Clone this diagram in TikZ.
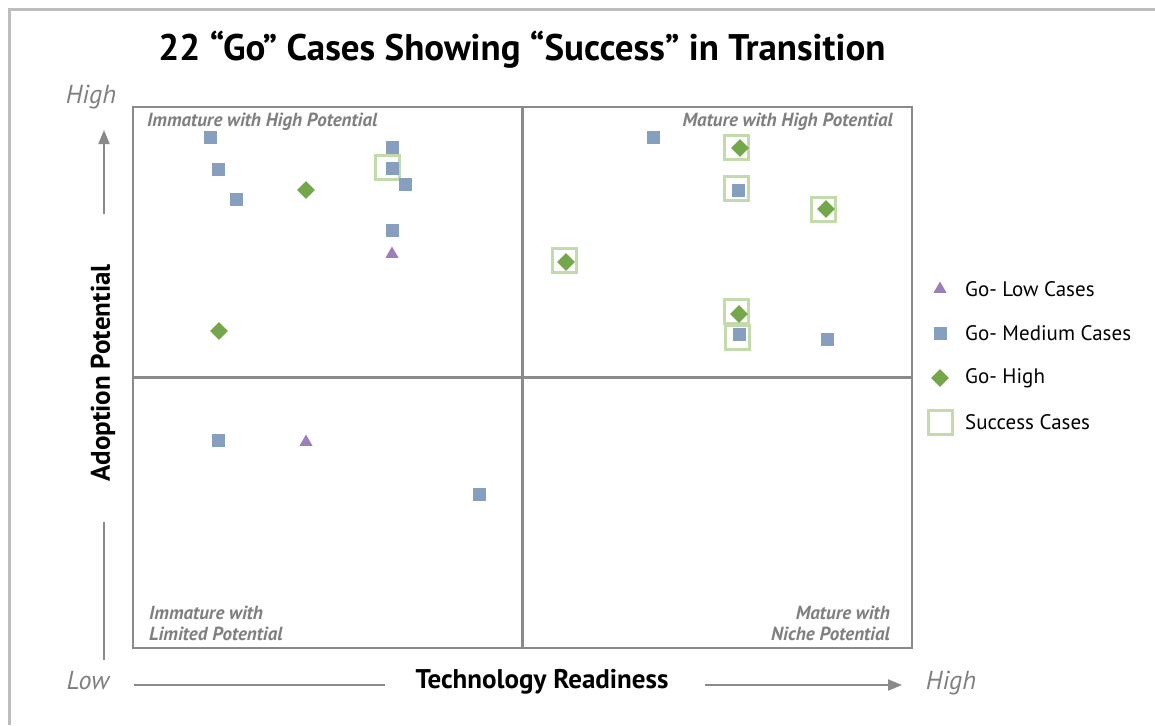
\documentclass[tikz,border=0pt]{standalone}
\usepackage{fontspec}
\setmainfont{PT Sans}
\usetikzlibrary{shapes.geometric,arrows.meta}
\definecolor{framegray}{HTML}{BDBDBD}
\definecolor{quadgray}{HTML}{8A8A8C}
\definecolor{labgray}{HTML}{7F7F82}
\definecolor{medblue}{HTML}{869FBF}
\definecolor{highgreen}{HTML}{74A64A}
\definecolor{lowpurple}{HTML}{9B7FBB}
\definecolor{succgreen}{HTML}{C3DAAA}
\tikzset{
  medsq/.style={rectangle,fill=medblue,inner sep=0pt,minimum size=13pt},
  highdia/.style={diamond,fill=highgreen,inner sep=0pt,minimum width=18pt,minimum height=18pt},
  lowtri/.style={regular polygon,regular polygon sides=3,fill=lowpurple,inner sep=0pt,minimum size=15pt},
  succbox/.style={rectangle,draw=succgreen,line width=3pt,inner sep=0pt,minimum size=24pt},
  quadlab/.style={font=\fontsize{19}{21}\selectfont\bfseries\itshape,text=labgray,inner sep=0pt},
  hilo/.style={font=\fontsize{26}{28}\selectfont\itshape,text=labgray,inner sep=0pt},
  axlab/.style={font=\fontsize{27}{29}\selectfont\bfseries,text=black,inner sep=0pt},
  legtext/.style={font=\fontsize{21}{23}\selectfont,anchor=west,inner sep=0pt},
  axline/.style={draw=quadgray,line width=2pt},
  axarrow/.style={axline,-{Triangle[length=14pt,width=11pt]}}
}
\begin{document}
\begin{tikzpicture}[x=1pt,y=-1pt]
\useasboundingbox (0,0) rectangle (1155,725);
% outer frame
\draw[framegray,line width=3pt] (9,725) -- (9,10) -- (1155,10);
% title
\node[font=\fontsize{37}{42}\selectfont\bfseries,inner sep=0pt] (title) at (522,50) {22 “Go” Cases Showing “Success” in Transition};
% quadrant box
\node[draw=quadgray,line width=2.5pt,minimum width=779pt,minimum height=541pt,inner sep=0pt] (box) at (522.5,377.5) {};
\draw[quadgray,line width=2.5pt] (box.north) -- (box.south);
\draw[quadgray,line width=2.5pt] (box.west) -- (box.east);
% quadrant labels
\node[quadlab,anchor=west] (q1) at (147,122) {Immature with High Potential};
\node[quadlab,anchor=east] (q2) at (893,122) {Mature with High Potential};
\node[quadlab,anchor=west,align=left] (q3) at (149,623) {Immature with\\Limited Potential};
\node[quadlab,anchor=east,align=right] (q4) at (890,623) {Mature with\\Niche Potential};
% y axis
\node[hilo] (yhigh) at (91,97) {High};
\node[hilo] (ylow) at (88,681) {Low};
\node[axlab,rotate=90] (ylab) at (103,373) {Adoption Potential};
\coordinate (ytop) at (104,130);
\coordinate (ybot) at (104,660);
\coordinate (yu) at (104,214);
\coordinate (yd) at (104,522);
\draw[axarrow] (yu) -- (ytop);
\draw[axline] (yd) -- (ybot);
% x axis
\node[hilo] (xhigh) at (951,683) {High};
\node[axlab] (xlab) at (542,682) {Technology Readiness};
\coordinate (xl0) at (134,685);
\coordinate (xl1) at (385,685);
\coordinate (xr0) at (705,685);
\coordinate (xr1) at (902,685);
\draw[axline] (xl0) -- (xl1);
\draw[axarrow] (xr0) -- (xr1);
% success boxes
\node[succbox] (s1) at (387,167) {};
\node[succbox] (s2) at (736,147) {};
\node[succbox] (s3) at (736,188) {};
\node[succbox] (s4) at (823,209) {};
\node[succbox] (s5) at (564,260) {};
\node[succbox] (s6) at (736,311) {};
\node[succbox] (s7) at (737,337) {};
% top-left quadrant
\node[medsq] (m1) at (210,137) {};
\node[medsq] (m2) at (218,169) {};
\node[medsq] (m3) at (236,199) {};
\node[medsq] (m4) at (392,147) {};
\node[medsq] (m5) at (392,168) {};
\node[medsq] (m6) at (405,184) {};
\node[medsq] (m7) at (392,230) {};
\node[highdia] (h1) at (306,190) {};
\node[highdia] (h2) at (219,331) {};
\node[lowtri] (l1) at (392,254) {};
% top-right quadrant
\node[medsq] (m8) at (653,137) {};
\node[medsq] (m9) at (738,190) {};
\node[medsq] (m10) at (739,334) {};
\node[medsq] (m11) at (827,339) {};
\node[highdia] (h3) at (740,148) {};
\node[highdia] (h4) at (826,209) {};
\node[highdia] (h5) at (566,262) {};
\node[highdia] (h6) at (739,314) {};
% bottom-left quadrant
\node[medsq] (m12) at (218,440) {};
\node[lowtri] (l2) at (306,442) {};
\node[medsq] (m13) at (479,494) {};
% legend
\node[lowtri] (kl) at (940,289) {};
\node[legtext] (klt) at (965,289) {Go- Low Cases};
\node[medsq] (km) at (940,333) {};
\node[legtext] (kmt) at (965,333) {Go- Medium Cases};
\node[highdia] (kh) at (940,378) {};
\node[legtext] (kht) at (965,378) {Go- High};
\node[succbox] (ks) at (940,422) {};
\node[legtext] (kst) at (965,422) {Success Cases};
\end{tikzpicture}
\end{document}
